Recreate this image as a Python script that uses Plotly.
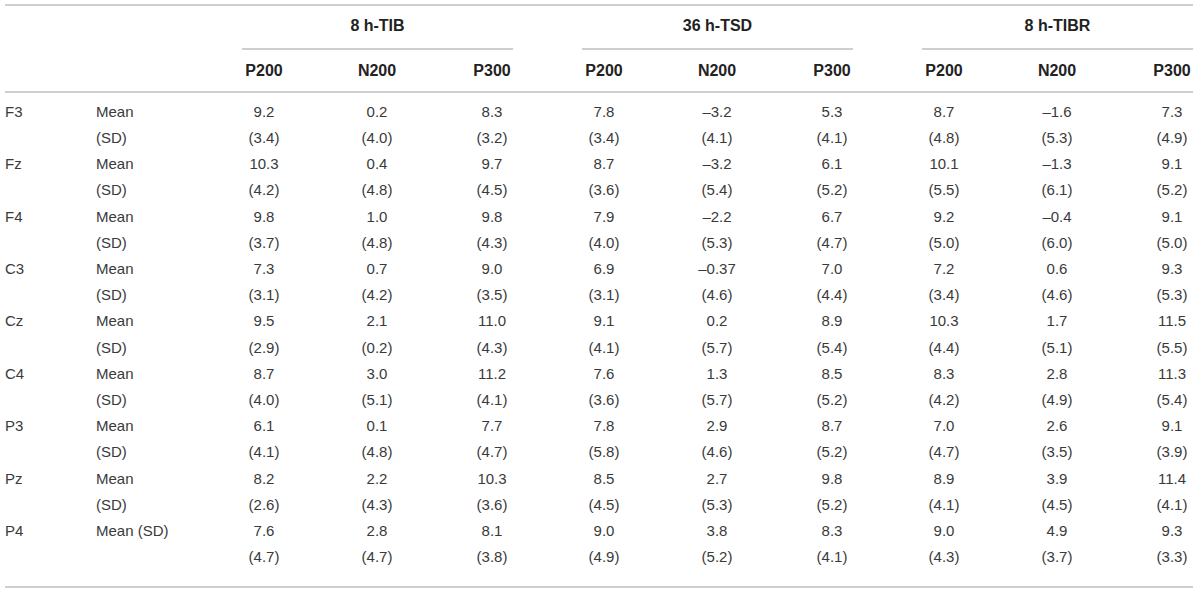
import plotly.graph_objects as go

# table content
electrodes = ["F3", "Fz", "F4", "C3", "Cz", "C4", "P3", "Pz", "P4"]
stat_labels = [("Mean", "(SD)")] * 8 + [("Mean (SD)", "")]
conditions = ["8 h-TIB", "36 h-TSD", "8 h-TIBR"]
components = ["P200", "N200", "P300"]

# rows = electrodes, columns = P200, N200, P300
tib_mean = [[9.2, 0.2, 8.3], [10.3, 0.4, 9.7], [9.8, 1.0, 9.8], [7.3, 0.7, 9.0], [9.5, 2.1, 11.0],
            [8.7, 3.0, 11.2], [6.1, 0.1, 7.7], [8.2, 2.2, 10.3], [7.6, 2.8, 8.1]]
tib_sd = [[3.4, 4.0, 3.2], [4.2, 4.8, 4.5], [3.7, 4.8, 4.3], [3.1, 4.2, 3.5], [2.9, 0.2, 4.3],
          [4.0, 5.1, 4.1], [4.1, 4.8, 4.7], [2.6, 4.3, 3.6], [4.7, 4.7, 3.8]]
tsd_mean = [[7.8, -3.2, 5.3], [8.7, -3.2, 6.1], [7.9, -2.2, 6.7], [6.9, -0.37, 7.0], [9.1, 0.2, 8.9],
            [7.6, 1.3, 8.5], [7.8, 2.9, 8.7], [8.5, 2.7, 9.8], [9.0, 3.8, 8.3]]
tsd_sd = [[3.4, 4.1, 4.1], [3.6, 5.4, 5.2], [4.0, 5.3, 4.7], [3.1, 4.6, 4.4], [4.1, 5.7, 5.4],
          [3.6, 5.7, 5.2], [5.8, 4.6, 5.2], [4.5, 5.3, 5.2], [4.9, 5.2, 4.1]]
tibr_mean = [[8.7, -1.6, 7.3], [10.1, -1.3, 9.1], [9.2, -0.4, 9.1], [7.2, 0.6, 9.3], [10.3, 1.7, 11.5],
             [8.3, 2.8, 11.3], [7.0, 2.6, 9.1], [8.9, 3.9, 11.4], [9.0, 4.9, 9.3]]
tibr_sd = [[4.8, 5.3, 4.9], [5.5, 6.1, 5.2], [5.0, 6.0, 5.0], [3.4, 4.6, 5.3], [4.4, 5.1, 5.5],
           [4.2, 4.9, 5.4], [4.7, 3.5, 3.9], [4.1, 4.5, 4.1], [4.3, 3.7, 3.3]]

# layout (pixel space of the 1200x593 page)
W, H = 1200, 593
FONT = "Liberation Sans, Arial, sans-serif"
TEXT = "#3a3a3a"
HEAD = "#222222"
GROUP_X0 = [242, 582, 922]
GROUP_W = 271
COL_OFF = [22, 135, 250]
ROW0, ROW_H = 113, 26.2


def fmt(v):
    return str(v).replace("-", "\u2013")


fig = go.Figure()

n_rows = 2 * len(electrodes)
row_y = [ROW0 + i * ROW_H for i in range(n_rows)]

# electrode and stat label columns
fig.add_trace(go.Scatter(
    x=[5] * n_rows, y=row_y,
    text=[e if i % 2 == 0 else "" for e in electrodes for i in range(2)],
    mode="text", textposition="middle right", hoverinfo="skip",
    textfont=dict(family=FONT, size=15, color=TEXT),
))
fig.add_trace(go.Scatter(
    x=[96] * n_rows, y=row_y,
    text=[lab for pair in stat_labels for lab in pair],
    mode="text", textposition="middle right", hoverinfo="skip",
    textfont=dict(family=FONT, size=15, color=TEXT),
))

blocks = [(tib_mean, tib_sd), (tsd_mean, tsd_sd), (tibr_mean, tibr_sd)]
for g, (cond, (means, sds)) in enumerate(zip(conditions, blocks)):
    x0 = GROUP_X0[g]
    # group title
    fig.add_trace(go.Scatter(
        x=[x0 + GROUP_W / 2], y=[27], text=[f"<b>{cond}</b>"],
        mode="text", textposition="middle center", hoverinfo="skip",
        textfont=dict(family=FONT, size=16, color=HEAD),
    ))
    fig.add_shape(type="line", x0=x0, x1=x0 + GROUP_W, y0=49, y1=49,
                  line=dict(color="#a0a0a0", width=1.2))
    for c, comp in enumerate(components):
        cx = x0 + COL_OFF[c]
        fig.add_trace(go.Scatter(
            x=[cx], y=[72], text=[f"<b>{comp}</b>"],
            mode="text", textposition="middle center", hoverinfo="skip",
            textfont=dict(family=FONT, size=16, color=HEAD),
        ))
        vals = []
        for r in range(len(electrodes)):
            vals.append(fmt(means[r][c]))
            vals.append("(" + fmt(sds[r][c]) + ")")
        fig.add_trace(go.Scatter(
            x=[cx] * n_rows, y=row_y, text=vals,
            mode="text", textposition="middle center", hoverinfo="skip",
            textfont=dict(family=FONT, size=15, color=TEXT),
        ))

# horizontal rules
for y in [5, 92, 587]:
    fig.add_shape(type="line", x0=5, x1=1193, y0=y, y1=y,
                  line=dict(color="#cfcfcf", width=2))

fig.update_layout(
    width=W, height=H,
    margin=dict(l=0, r=0, t=0, b=0),
    paper_bgcolor="white", plot_bgcolor="white",
    showlegend=False,
    xaxis=dict(range=[0, W], visible=False, fixedrange=True),
    yaxis=dict(range=[H, 0], visible=False, fixedrange=True),
)

# drop the default page margin so the table fills the window
fig.write_html("out.html", config={"displayModeBar": False},
               post_script="document.body.style.margin='0';"
               "document.body.style.overflow='hidden';")
